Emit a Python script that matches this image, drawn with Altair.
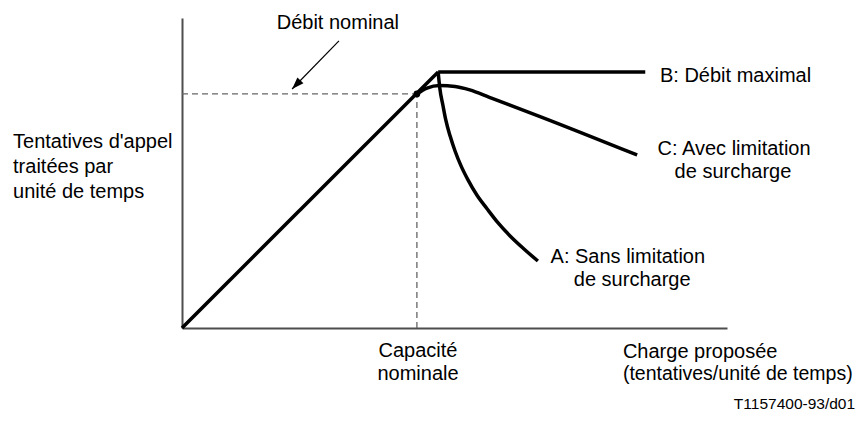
import altair as alt
import pandas as pd

# ---- data (abstract units: 0-100 on both axes) ----
lin_x = [0.0, 47.0]
lin_y = [0.0, 82.6]

b_x = [47.0, 85.0]
b_y = [82.6, 82.6]

c_x = [43.1, 44.95, 47.3, 50.1, 52.8, 56.5, 65.7, 83.5]
c_y = [75.5, 77.4, 78.2, 77.9, 76.8, 74.35, 68.2, 55.8]

a_x = [47.0, 47.3, 47.9, 48.4, 49.2, 50.1, 51.2, 52.5, 54.1, 56.0, 58.0, 60.2, 62.75, 65.3]
a_y = [82.6, 77.4, 71.6, 67.1, 61.9, 57.1, 52.3, 47.7, 42.9, 38.4, 33.9, 29.7, 25.5, 21.6]

nominal_x = [43.1]
nominal_y = [75.5]

arrow_from = (28.8, 92.6)
arrow_to = (20.2, 77.1)

label_text = ["Débit nominal", "B: Débit maximal", "C: Avec limitation", "de surcharge",
              "A: Sans limitation", "de surcharge", "Capacité", "nominale"]
label_x = [28.6, 87.7, 101.3, 101.1, 81.8, 82.6, 43.3, 43.3]
label_y = [98.4, 81.3, 57.7, 50.3, 22.9, 15.5, -7.4, -14.8]
label_align = ["center", "left", "center", "center", "center", "center", "center", "center"]

left_text = ["Tentatives d'appel", "traitées par", "unité de temps",
             "Charge proposée", "(tentatives/unité de temps)"]
left_x = [-31.0, -31.0, -31.0, 80.9, 80.9]
left_y = [60.0, 51.9, 43.9, -7.7, -14.8]
left_size = [20, 20, 20, 20, 19.5]

ref_text = ["T1157400-93/d01"]
ref_x = [123.5]
ref_y = [-24.6]

# ---- tables ----
rows = []
for name, xs, ys in [("lin", lin_x, lin_y), ("B", b_x, b_y), ("C", c_x, c_y), ("A", a_x, a_y)]:
    for i, (xv, yv) in enumerate(zip(xs, ys)):
        rows.append({"series": name, "order": i, "x": xv, "y": yv})
curves = pd.DataFrame(rows)

dash_df = pd.DataFrame({
    "x": [0.0, nominal_x[0]], "x2": [nominal_x[0], nominal_x[0]],
    "y": [nominal_y[0], 0.0], "y2": [nominal_y[0], nominal_y[0]],
})
dot_df = pd.DataFrame({"x": nominal_x, "y": nominal_y})
arrow_df = pd.DataFrame({"x": [arrow_from[0]], "y": [arrow_from[1]],
                         "x2": [arrow_to[0]], "y2": [arrow_to[1]]})
head_df = pd.DataFrame({"x": [arrow_to[0]], "y": [arrow_to[1]]})
labels_df = pd.DataFrame({"t": label_text, "x": label_x, "y": label_y, "al": label_align})
left_df = pd.DataFrame({"t": left_text, "x": left_x, "y": left_y, "fs": left_size})
ref_df = pd.DataFrame({"t": ref_text, "x": ref_x, "y": ref_y})

sx = alt.Scale(domain=[0, 100], nice=False, zero=False)
sy = alt.Scale(domain=[0, 100], nice=False, zero=False)
ax = alt.Axis(domain=True, ticks=False, labels=False, grid=False, title=None,
              domainColor="#4d4d4d", domainWidth=2)
X = alt.X("x:Q", scale=sx, axis=ax)
Y = alt.Y("y:Q", scale=sy, axis=ax)

FONT = "Liberation Sans"

lines = alt.Chart(curves).mark_line(color="black", strokeWidth=3.5, interpolate="monotone").encode(
    x=X, y=Y, detail="series:N", order="order:Q")

dashes = alt.Chart(dash_df).mark_rule(color="#666666", strokeWidth=1.3, strokeDash=[6, 4]).encode(
    x=X, y=Y, x2="x2:Q", y2="y2:Q")

dot = alt.Chart(dot_df).mark_point(filled=True, color="black", size=45, opacity=1).encode(x=X, y=Y)

arrow = alt.Chart(arrow_df).mark_rule(color="black", strokeWidth=1.2).encode(
    x=X, y=Y, x2="x2:Q", y2="y2:Q")

head = alt.Chart(head_df).mark_point(
    shape="M0,0 L0.35,1 L-0.35,1 Z", size=576, filled=True, color="black", opacity=1, angle=224
).encode(x=X, y=Y)

labels_c = alt.Chart(labels_df).transform_filter(alt.datum.al == "center").mark_text(
    font=FONT, fontSize=20, color="black", align="center", baseline="middle").encode(x=X, y=Y, text="t:N")
labels_l = alt.Chart(labels_df).transform_filter(alt.datum.al == "left").mark_text(
    font=FONT, fontSize=20, color="black", align="left", baseline="middle").encode(x=X, y=Y, text="t:N")
left_lbl = alt.Chart(left_df).mark_text(
    font=FONT, color="black", align="left", baseline="middle").encode(
    x=X, y=Y, text="t:N", size=alt.Size("fs:Q", scale=None, legend=None))
ref_lbl = alt.Chart(ref_df).mark_text(
    font=FONT, fontSize=15.5, color="black", align="right", baseline="middle").encode(x=X, y=Y, text="t:N")

chart = alt.layer(dashes, lines, dot, arrow, head, labels_c, labels_l, left_lbl, ref_lbl).properties(
    width=545, height=310,
    autosize=alt.AutoSizeParams(type="none"),
    padding={"left": 174, "top": 10, "right": 129, "bottom": 86},
    background="white",
).configure_view(stroke=None)

chart.save("out.html", embed_options={"renderer": "svg", "actions": False})
